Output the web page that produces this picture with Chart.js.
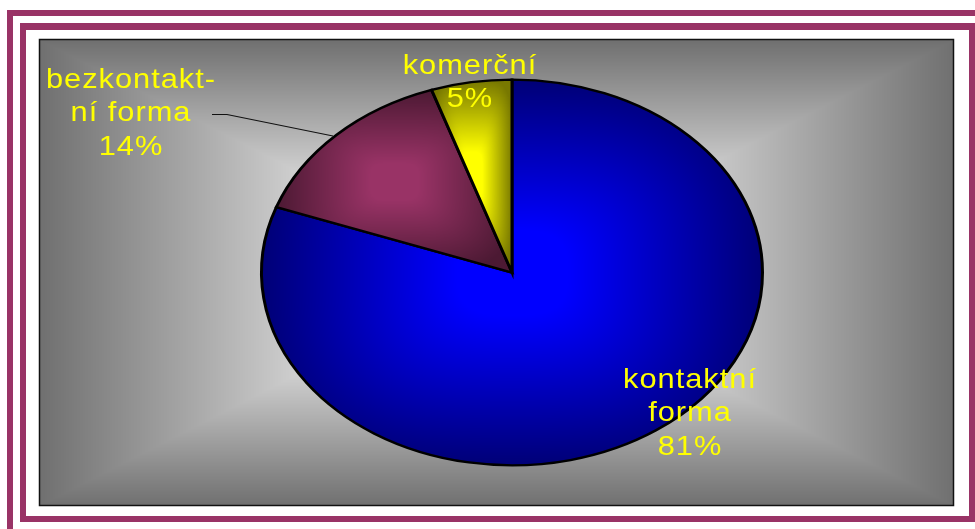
<!DOCTYPE html>
<html>
<head>
<meta charset="utf-8">
<title>Formy</title>
<script src="https://cdn.jsdelivr.net/npm/chart.js@4"></script>
<style>
  html, body { margin: 0; background: #fff; overflow: hidden; }
  canvas { display: block; }
</style>
</head>
<body>
<canvas id="graf" width="975" height="529"></canvas>
<script>
// Data
const categories = ['kontaktní forma', 'bezkontaktní forma', 'komerční'];
const values = [80.5, 14.3, 5.2];
const labelLines = [['kontaktní', 'forma'], ['bezkontakt-', 'ní forma'], ['komerční']];

// Styl
const W = 975, H = 529;
const maroon = '#993366';
const plot = { x0: 40, y0: 40, x1: 953, y1: 505 };
const labelPos = [{ x: 690, y: 380 }, { x: 131, y: 80 }, { x: 470, y: 66 }];
const lineGap = 33.5;
const textStretch = 1.1;
const pie = { cy: 272.5, rx: 252, ry: 194 };
const sliceColors = [
  { inner: [0, 0, 255], outer: [0, 0, 118], core: 0.22, power: 3 },
  { inner: [153, 51, 102], outer: [76, 25, 51], core: 0.2, power: 4 },
  { inner: [255, 255, 0], outer: [120, 120, 0], core: 0.25, power: 5 }
];

// Gradient od stredu k okraji obdelniku (jako vypln "cesta" v PowerPointu)
function pathGradient(box, inner, outer, core, power) {
  const c = document.createElement('canvas');
  c.width = W; c.height = H;
  const g = c.getContext('2d');
  const img = g.createImageData(W, H);
  const mx = (box.x0 + box.x1) / 2, my = (box.y0 + box.y1) / 2;
  const hw = (box.x1 - box.x0) / 2, hh = (box.y1 - box.y0) / 2;
  for (let y = 0; y < H; y++) {
    for (let x = 0; x < W; x++) {
      const dx = Math.abs(x - mx) / hw, dy = Math.abs(y - my) / hh;
      const d = power ? Math.pow(Math.pow(dx, power) + Math.pow(dy, power), 1 / power) : Math.max(dx, dy);
      const t = Math.min(1, Math.max(0, (d - core) / (1 - core)));
      const i = (y * W + x) * 4;
      img.data[i] = inner[0] + (outer[0] - inner[0]) * t;
      img.data[i + 1] = inner[1] + (outer[1] - inner[1]) * t;
      img.data[i + 2] = inner[2] + (outer[2] - inner[2]) * t;
      img.data[i + 3] = 255;
    }
  }
  g.putImageData(img, 0, 0);
  return c;
}

const backdrop = pathGradient(plot, [255, 255, 255], [112, 112, 112], 0.15, 0);

function sliceBox(arc) {
  const box = { x0: arc.x, y0: arc.y, x1: arc.x, y1: arc.y };
  for (let a = arc.startAngle; a <= arc.endAngle; a += 0.01) {
    const x = arc.x + Math.cos(a) * arc.outerRadius, y = arc.y + Math.sin(a) * arc.outerRadius;
    box.x0 = Math.min(box.x0, x); box.x1 = Math.max(box.x1, x);
    box.y0 = Math.min(box.y0, y); box.y1 = Math.max(box.y1, y);
  }
  return box;
}

const framePlugin = {
  id: 'frame',
  beforeDraw(chart) {
    const ctx = chart.ctx;
    ctx.save();
    ctx.fillStyle = '#fff';
    ctx.fillRect(0, 0, W, H);
    // dvojity ramecek
    ctx.fillStyle = maroon;
    ctx.fillRect(7, 10, W - 7, 6);
    ctx.fillRect(7, 10, 6, H - 10);
    ctx.fillRect(20, 23, W - 20, 7);
    ctx.fillRect(20, 23, 6, 499);
    ctx.fillRect(969, 23, 6, 499);
    ctx.fillRect(20, 516, W - 20, 6);
    // pozadi grafu
    const w = plot.x1 - plot.x0, h = plot.y1 - plot.y0;
    ctx.drawImage(backdrop, plot.x0, plot.y0, w, h, plot.x0, plot.y0, w, h);
    ctx.strokeStyle = '#111';
    ctx.lineWidth = 1.5;
    ctx.strokeRect(plot.x0 - 0.5, plot.y0 - 0.5, w + 1, h + 1);
    ctx.restore();
  }
};

const ellipsePlugin = {
  id: 'ellipse',
  beforeDatasetsDraw(chart) {
    const ctx = chart.ctx;
    chart.getDatasetMeta(0).data.forEach((arc, i) => {
      const s = sliceColors[i];
      const tex = pathGradient(sliceBox(arc), s.inner, s.outer, s.core, s.power);
      arc.options = Object.assign({}, arc.options, { backgroundColor: ctx.createPattern(tex, 'no-repeat') });
    });
    ctx.save();
    ctx.translate(0, pie.cy);
    ctx.scale(1, pie.ry / pie.rx);
    ctx.translate(0, -pie.cy);
  },
  afterDatasetsDraw(chart) {
    chart.ctx.restore();
  }
};

const labelPlugin = {
  id: 'popisky',
  afterDraw(chart) {
    const ctx = chart.ctx;
    ctx.save();
    // odkazova cara k vysece
    ctx.strokeStyle = '#111';
    ctx.lineWidth = 1.2;
    ctx.beginPath();
    ctx.moveTo(212, 114.5);
    ctx.lineTo(227, 114.5);
    ctx.lineTo(333, 136);
    ctx.stroke();
    ctx.font = '28px "Liberation Sans"';
    ctx.letterSpacing = '0.9px';
    ctx.fillStyle = '#ffff00';
    ctx.textAlign = 'center';
    ctx.textBaseline = 'middle';
    values.forEach((v, i) => {
      const lines = labelLines[i].concat([Math.round(v) + '%']);
      lines.forEach((t, j) => {
        ctx.save();
        ctx.translate(labelPos[i].x, labelPos[i].y + j * lineGap);
        ctx.scale(textStretch, 1);
        ctx.fillText(t, 0, 0);
        ctx.restore();
      });
    });
    ctx.restore();
  }
};

new Chart(document.getElementById('graf').getContext('2d'), {
  type: 'pie',
  data: {
    labels: categories,
    datasets: [{
      data: values,
      backgroundColor: ['#0000ff', '#993366', '#ffff00'],
      borderColor: '#000',
      borderWidth: 3,
      borderJoinStyle: 'miter'
    }]
  },
  options: {
    responsive: false,
    animation: false,
    events: [],
    layout: { padding: { left: 260, right: 211, top: 20.5, bottom: 4.5 } },
    plugins: { legend: { display: false }, tooltip: { enabled: false } }
  },
  plugins: [framePlugin, ellipsePlugin, labelPlugin]
});
</script>
</body>
</html>
